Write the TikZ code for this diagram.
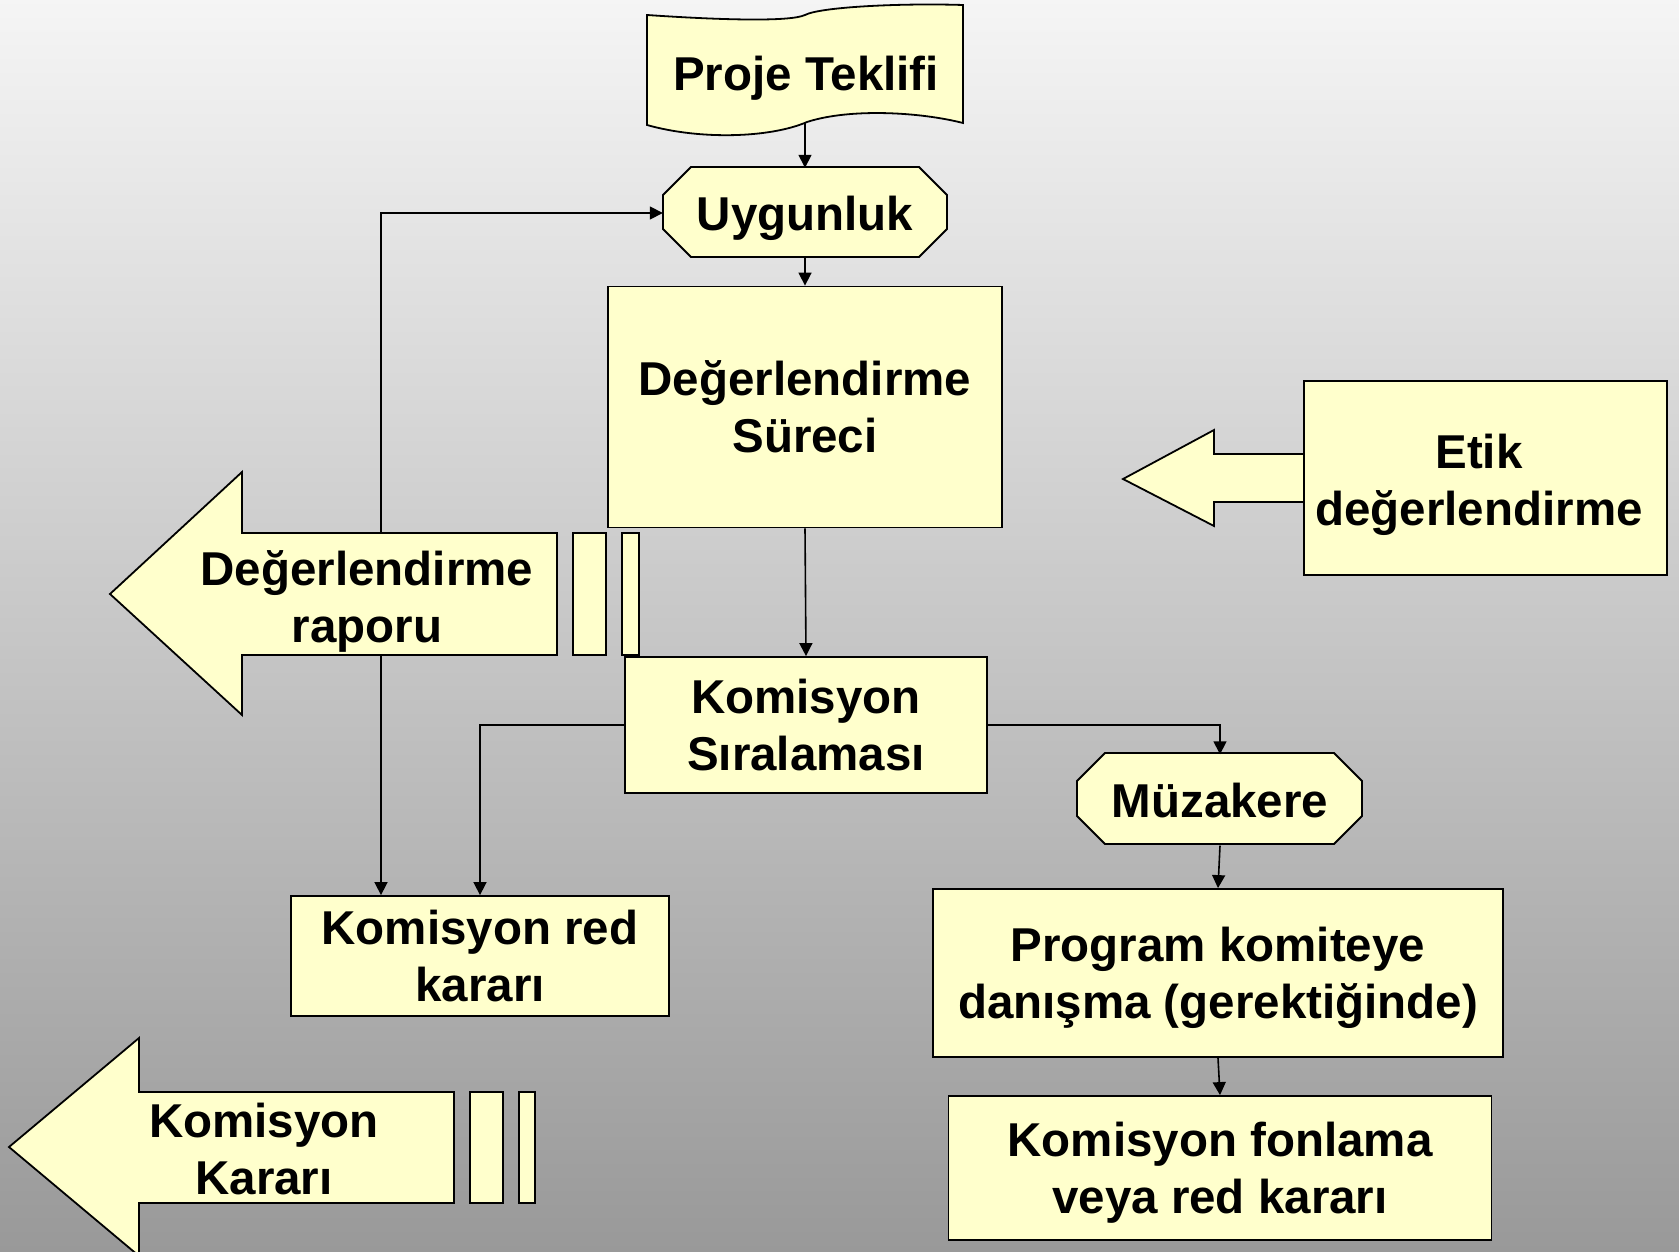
\documentclass[tikz,border=0pt]{standalone}
\usepackage{fontspec}
\setmainfont{Liberation Sans}
\usetikzlibrary{positioning,arrows.meta}

\definecolor{kutusari}{HTML}{FFFFCC}

\begin{document}
\begin{tikzpicture}[x=1pt, y=-1pt,
    every node/.style = {font=\fontsize{47.5}{57}\selectfont\bfseries,
      align=center, text depth=0pt},
    kutu/.style = {rectangle, draw, line width=1.8pt, fill=kutusari, inner sep=0pt},
    yazi/.style = {rectangle, inner sep=0pt},
    sekil/.style = {draw, line width=1.8pt, fill=kutusari},
    ok/.style = {line width=1.6pt, -{Triangle[length=13pt,width=13pt]}},
    hat/.style = {line width=1.6pt}]
    \useasboundingbox (0,0) rectangle (1679,1252);
    \shade[top color=white!96!black, bottom color=black!40] (0,0) rectangle (1679,1252);

    % proje teklifi (delikli serit)
    \draw[sekil] (647,15) .. controls (720,20) and (790,22) .. (805,15)
      .. controls (820,7) and (900,3) .. (963,5) -- (963,123)
      .. controls (920,112) and (850,108) .. (807,122)
      .. controls (770,138) and (700,140) .. (647,125) -- cycle;
    \node (teklif) at (806,73) {Proje Teklifi};
    \coordinate (teklifS) at (805,123);

    % sekizgenler
    \draw[sekil] (691,167) -- (919,167) -- (947,195) -- (947,229)
      -- (919,257) -- (691,257) -- (663,229) -- (663,195) -- cycle;
    \node[yazi, minimum width=284pt, minimum height=90pt] (uyg) at (805,213) {Uygunluk};
    \draw[sekil] (1105,753) -- (1334,753) -- (1362,781) -- (1362,816)
      -- (1334,844) -- (1105,844) -- (1077,816) -- (1077,781) -- cycle;
    \node[yazi, minimum width=285pt, minimum height=91pt] (muz) at (1220,800) {Müzakere};

    \node[kutu, minimum width=394pt, minimum height=241pt] (surec) at (805,407) {Değerlendirme\\Süreci};
    \node[kutu, minimum width=362pt, minimum height=136pt] (sira) at (806,725) {Komisyon\\Sıralaması};
    \node[kutu, minimum width=378pt, minimum height=120pt] (red) at (480,956) {Komisyon red\\kararı};
    \node[kutu, minimum width=570pt, minimum height=168pt] (danis) at (1218,973) {Program komiteye\\danışma (gerektiğinde)};
    \node[kutu, minimum width=543pt, minimum height=144pt] (fon) at (1220,1168) {Komisyon fonlama\\veya red kararı};

    % etik degerlendirme
    \draw[sekil] (1123,479) -- (1214,430) -- (1214,454) -- (1304,454)
      -- (1304,502) -- (1214,502) -- (1214,526) -- cycle;
    \draw[sekil] (1304,381) rectangle (1667,575);
    \node (etik) at (1479,480) {Etik\\değerlendirme};

    % degerlendirme raporu
    \draw[sekil] (110,594) -- (242,472) -- (242,533) -- (557,533)
      -- (557,655) -- (242,655) -- (242,715) -- cycle;
    \draw[sekil] (573,533) rectangle (606,655);
    \draw[sekil] (622,533) rectangle (639,655);
    \node (rapor) at (367,597) {Değerlendirme\\raporu};
    \coordinate (raporN) at (381,533);
    \coordinate (raporS) at (381,655);

    % komisyon karari
    \draw[sekil] (9,1147) -- (139,1038) -- (139,1092) -- (454,1092)
      -- (454,1203) -- (139,1203) -- (139,1256) -- cycle;
    \draw[sekil] (470,1092) rectangle (503,1203);
    \draw[sekil] (519,1092) rectangle (535,1203);
    \node (karar) at (264,1149) {Komisyon\\Kararı};

    % baglantilar
    \draw[ok] (teklifS) -- (uyg.north);
    \draw[ok] (uyg.south) -- (surec.north);
    \draw[ok] (surec.south) -- (sira.north);
    \draw[ok] (raporN) |- (uyg.west);
    \draw[ok] (raporS) -- (raporS |- red.north);
    \draw[ok] (sira.west) -| (red.north);
    \draw[ok] (sira.east) -| (muz.north);
    \draw[ok] (muz.south) -- (danis.north);
    \draw[ok] (danis.south) -- (fon.north);
\end{tikzpicture}
\end{document}
